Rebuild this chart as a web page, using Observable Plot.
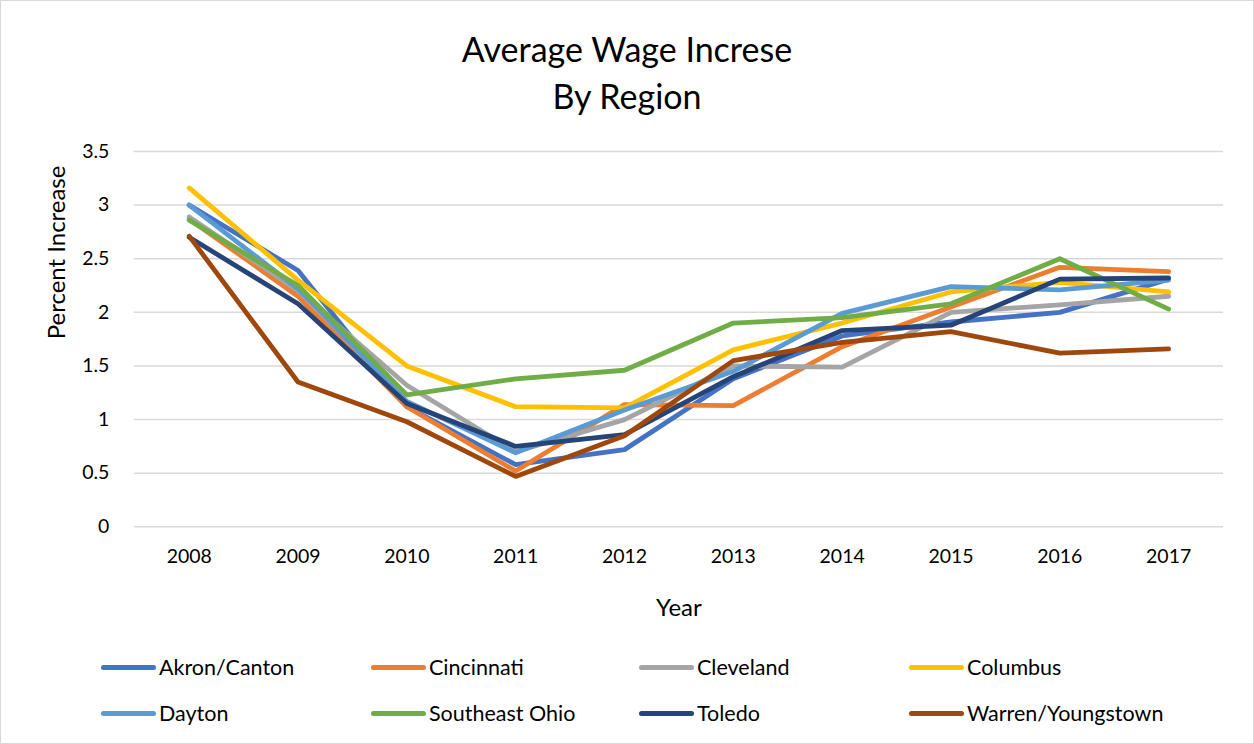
<!DOCTYPE html>
<html>
<head>
<meta charset="utf-8">
<script src="https://cdn.jsdelivr.net/npm/d3@7"></script>
<script src="https://cdn.jsdelivr.net/npm/@observablehq/plot@0.6"></script>
<style>
  html, body { margin: 0; padding: 0; background: #fff; }
  #chart { position: relative; width: 1254px; height: 744px; box-sizing: border-box; border: 1px solid #d9d9d9; font-family: Lato, "Open Sans", sans-serif; color: #000; overflow: hidden; }
  #title { height: 124px; text-align: center; font-size: 34px; line-height: 47px; padding-top: 24px; box-sizing: border-box; }
  #plot svg { display: block; }
  #legend { position: absolute; left: 0; top: 653px; width: 1254px; }
  .row { position: relative; height: 46px; }
  .item { position: absolute; display: flex; align-items: center; font-size: 21.5px; }
  .sw { width: 55px; height: 5px; border-radius: 3px; margin-right: 3px; }
</style>
</head>
<body>
<div id="chart">
  <div id="title">Average Wage Increse<br>By Region</div>
  <div id="plot"></div>
  <div id="legend"></div>
</div>
<script>
const years = [2008, 2009, 2010, 2011, 2012, 2013, 2014, 2015, 2016, 2017];
const regions = ["Akron/Canton", "Cincinnati", "Cleveland", "Columbus", "Dayton", "Southeast Ohio", "Toledo", "Warren/Youngstown"];
const colors = ["#4472C4", "#ED7D31", "#A5A5A5", "#FFC000", "#5B9BD5", "#70AD47", "#264478", "#9E480E"];
const akron     = [3.00, 2.39, 1.12, 0.58, 0.72, 1.38, 1.78, 1.91, 2.00, 2.31];
const cincinnati= [2.87, 2.15, 1.12, 0.52, 1.14, 1.13, 1.68, 2.05, 2.42, 2.38];
const cleveland = [2.89, 2.20, 1.32, 0.70, 1.00, 1.50, 1.49, 2.00, 2.07, 2.15];
const columbus  = [3.16, 2.30, 1.50, 1.12, 1.11, 1.65, 1.90, 2.19, 2.28, 2.19];
const dayton    = [3.00, 2.22, 1.17, 0.69, 1.09, 1.45, 1.99, 2.24, 2.21, 2.30];
const southeast = [2.86, 2.25, 1.23, 1.38, 1.46, 1.90, 1.95, 2.08, 2.50, 2.03];
const toledo    = [2.70, 2.08, 1.15, 0.75, 0.86, 1.40, 1.83, 1.88, 2.31, 2.32];
const warren    = [2.71, 1.35, 0.98, 0.47, 0.85, 1.55, 1.72, 1.82, 1.62, 1.66];
const yTicks = [0, 0.5, 1, 1.5, 2, 2.5, 3, 3.5];

const series = [akron, cincinnati, cleveland, columbus, dayton, southeast, toledo, warren];
const data = [];
regions.forEach((r, i) => years.forEach((y, j) => data.push({region: r, year: y, value: series[i][j]})));

const plot = Plot.plot({
  width: 1254,
  height: 506,
  marginLeft: 133,
  marginRight: 30,
  marginTop: 26,
  marginBottom: 104,
  style: {fontFamily: "Lato, 'Open Sans', sans-serif", fontSize: "19px", color: "#000", background: "transparent"},
  x: {type: "point", domain: years, padding: 0.5},
  y: {domain: [0, 3.5]},
  color: {domain: regions, range: colors},
  marks: [
    Plot.ruleY(yTicks, {stroke: "#d9d9d9", strokeWidth: 1.5}),
    Plot.axisY(yTicks, {tickSize: 0, tickPadding: 25, label: null, fontSize: 19.5, tickFormat: d => String(d)}),
    Plot.axisX(years, {tickSize: 0, tickPadding: 22, label: null, tickFormat: d => String(d), fontSize: 19.5}),
    Plot.line(data, {x: "year", y: "value", z: "region", stroke: "region", strokeWidth: 4.8, strokeLinejoin: "round", strokeLinecap: "round"}),
    Plot.text(["Percent Increase"], {frameAnchor: "left", dx: -77, rotate: -90, fontSize: 24, text: d => d}),
    Plot.text(["Year"], {frameAnchor: "bottom", dy: 89, fontSize: 24, text: d => d})
  ]
});
document.getElementById("plot").appendChild(plot);

const legend = document.getElementById("legend");
const colX = [100, 370, 638, 908];
for (let row = 0; row < 2; row++) {
  const rdiv = document.createElement("div");
  rdiv.className = "row";
  for (let c = 0; c < 4; c++) {
    const i = row * 4 + c;
    const it = document.createElement("div");
    it.className = "item";
    it.style.left = colX[c] + "px";
    const sw = document.createElement("span");
    sw.className = "sw";
    sw.style.background = colors[i];
    const tx = document.createElement("span");
    tx.textContent = regions[i];
    it.appendChild(sw); it.appendChild(tx);
    rdiv.appendChild(it);
  }
  legend.appendChild(rdiv);
}
</script>
</body>
</html>
